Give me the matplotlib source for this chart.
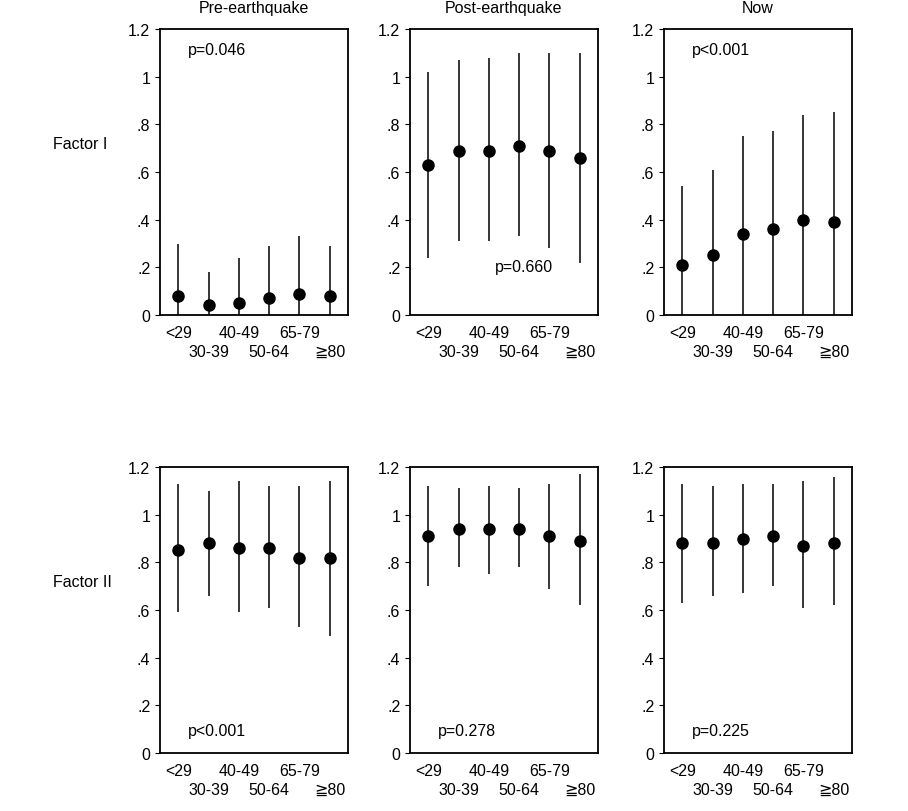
import matplotlib
matplotlib.use('Agg')
import matplotlib.pyplot as plt

plt.rcParams['font.family'] = ['Liberation Sans', 'DejaVu Sans', 'Noto Sans CJK JP']

groups = ['<29', '30-39', '40-49', '50-64', '65-79', '≧80']
columns = ['Pre-earthquake', 'Post-earthquake', 'Now']
rows = ['Factor I', 'Factor II']

# mean, upper, lower per panel
f1_pre_mean = [0.08, 0.04, 0.05, 0.07, 0.09, 0.08]
f1_pre_up = [0.30, 0.18, 0.24, 0.29, 0.33, 0.29]
f1_pre_lo = [0, 0, 0, 0, 0, 0]
f1_post_mean = [0.63, 0.69, 0.69, 0.71, 0.69, 0.66]
f1_post_up = [1.02, 1.07, 1.08, 1.10, 1.10, 1.10]
f1_post_lo = [0.24, 0.31, 0.31, 0.33, 0.28, 0.22]
f1_now_mean = [0.21, 0.25, 0.34, 0.36, 0.40, 0.39]
f1_now_up = [0.54, 0.61, 0.75, 0.77, 0.84, 0.85]
f1_now_lo = [0, 0, 0, 0, 0, 0]
f2_pre_mean = [0.85, 0.88, 0.86, 0.86, 0.82, 0.82]
f2_pre_up = [1.13, 1.10, 1.14, 1.12, 1.12, 1.14]
f2_pre_lo = [0.59, 0.66, 0.59, 0.61, 0.53, 0.49]
f2_post_mean = [0.91, 0.94, 0.94, 0.94, 0.91, 0.89]
f2_post_up = [1.12, 1.11, 1.12, 1.11, 1.13, 1.17]
f2_post_lo = [0.70, 0.78, 0.75, 0.78, 0.69, 0.62]
f2_now_mean = [0.88, 0.88, 0.90, 0.91, 0.87, 0.88]
f2_now_up = [1.13, 1.12, 1.13, 1.13, 1.14, 1.16]
f2_now_lo = [0.63, 0.66, 0.67, 0.70, 0.61, 0.62]

pvals = [['p=0.046', 'p=0.660', 'p<0.001'], ['p<0.001', 'p=0.278', 'p=0.225']]
ppos = [[(0.15, 0.93), (0.45, 0.17), (0.15, 0.93)], [(0.15, 0.08), (0.15, 0.08), (0.15, 0.08)]]

data = [[(f1_pre_mean, f1_pre_up, f1_pre_lo), (f1_post_mean, f1_post_up, f1_post_lo), (f1_now_mean, f1_now_up, f1_now_lo)],
        [(f2_pre_mean, f2_pre_up, f2_pre_lo), (f2_post_mean, f2_post_up, f2_post_lo), (f2_now_mean, f2_now_up, f2_now_lo)]]

fig = plt.figure(figsize=(9.08, 8.12), dpi=100)
lefts = [160, 410, 664]
tops = [30, 468]
w, h = 188, 286
x = list(range(1, 7))

for r in range(2):
    for c in range(3):
        ax = fig.add_axes([lefts[c] / 908, 1 - (tops[r] + h) / 812, w / 908, h / 812])
        m, up, lo = data[r][c]
        yerr = [[mi - l for mi, l in zip(m, lo)], [u - mi for mi, u in zip(m, up)]]
        ax.errorbar(x, m, yerr=yerr, fmt='o', color='black', ms=8, elinewidth=1.1, capsize=0)
        ax.set_xlim(0.4, 6.6)
        ax.set_ylim(0, 1.2)
        ax.set_yticks([0, 0.2, 0.4, 0.6, 0.8, 1.0, 1.2])
        ax.set_yticklabels(['0', '.2', '.4', '.6', '.8', '1', '1.2'], fontsize=11.5)
        ax.set_xticks([])
        for s in ax.spines.values():
            s.set_linewidth(1.3)
        for i, g in enumerate(groups):
            yy = -0.035 if i % 2 == 0 else -0.1
            ax.text(x[i], yy, g, transform=ax.get_xaxis_transform(), ha='center', va='top', fontsize=11.5)
        px, py = ppos[r][c]
        ax.text(px, py, pvals[r][c], transform=ax.transAxes, fontsize=11.5, va='center')
        if r == 0:
            ax.set_title(columns[c], fontsize=11.5, pad=12)
        if c == 0:
            ax.text(-0.57, 0.6, rows[r], transform=ax.transAxes, fontsize=11.5, va='center')

fig.savefig('out.png', dpi=100)
